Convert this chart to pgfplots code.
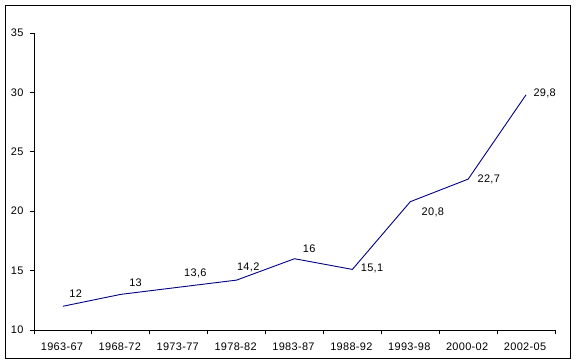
\documentclass[border=0pt]{standalone}
\usepackage{pgfplots}
\pgfplotsset{compat=1.18}
\usepackage{pgfplotstable}
\usepackage{fontspec}
\setmainfont{Liberation Sans}
\newfontfamily\lblfont[LetterSpace=3]{Liberation Sans}
\definecolor{navyline}{RGB}{0,0,128}
\pgfplotstableread{
x y lab dx dy
0 12 12 6 13
1 13 13 8 12
2 13.6 13,6 5 14
3 14.2 14,2 0 13
4 16 16 8 10
5 15.1 15,1 8 1
6 20.8 20,8 11 -11
7 22.7 22,7 9 0
8 29.8 29,8 7 1
}\data
\begin{document}
\begin{tikzpicture}
\useasboundingbox (-34bp,-34bp) rectangle (543bp,330bp);
\draw[black, line width=0.8bp] (-29bp,-28bp) rectangle (536bp,325bp);
\begin{axis}[
  at={(0,0)}, anchor=south west,
  scale only axis, width=521bp, height=297bp,
  xmin=-0.5, xmax=8.5, ymin=10, ymax=35,
  axis x line*=bottom, axis y line*=left,
  axis line style={black, line width=0.8bp},
  ytick={10,15,...,35},
  xtick={-0.5,0.5,...,8.5}, xticklabels={},
  extra x ticks={0,...,8},
  extra x tick labels={1963-67,1968-72,1973-77,1978-82,1983-87,1988-92,1993-98,2000-02,2002-05},
  extra x tick style={major tick length=0pt},
  tick align=outside, major tick length=4bp,
  tick style={black, line width=0.8bp},
  ticklabel style={font=\lblfont\fontsize{11}{13}\selectfont},
  /pgf/number format/assume math mode=true,
  yticklabel style={/pgf/number format/fixed},
  yticklabel style={xshift=-3bp},
  xticklabel style={yshift=-9bp, xshift=-1bp},
  clip=false,
]
\addplot[navyline, line width=0.9bp,
  nodes near coords,
  point meta=explicit symbolic,
  visualization depends on={\thisrow{dx} \as \dx},
  visualization depends on={\thisrow{dy} \as \dy},
  nodes near coords style={anchor=west, inner sep=0pt, xshift=\dx bp, yshift=\dy bp, font=\lblfont\fontsize{11}{13}\selectfont, text=black},
] table[x=x, y=y, meta=lab] {\data};
\end{axis}
\end{tikzpicture}
\end{document}
